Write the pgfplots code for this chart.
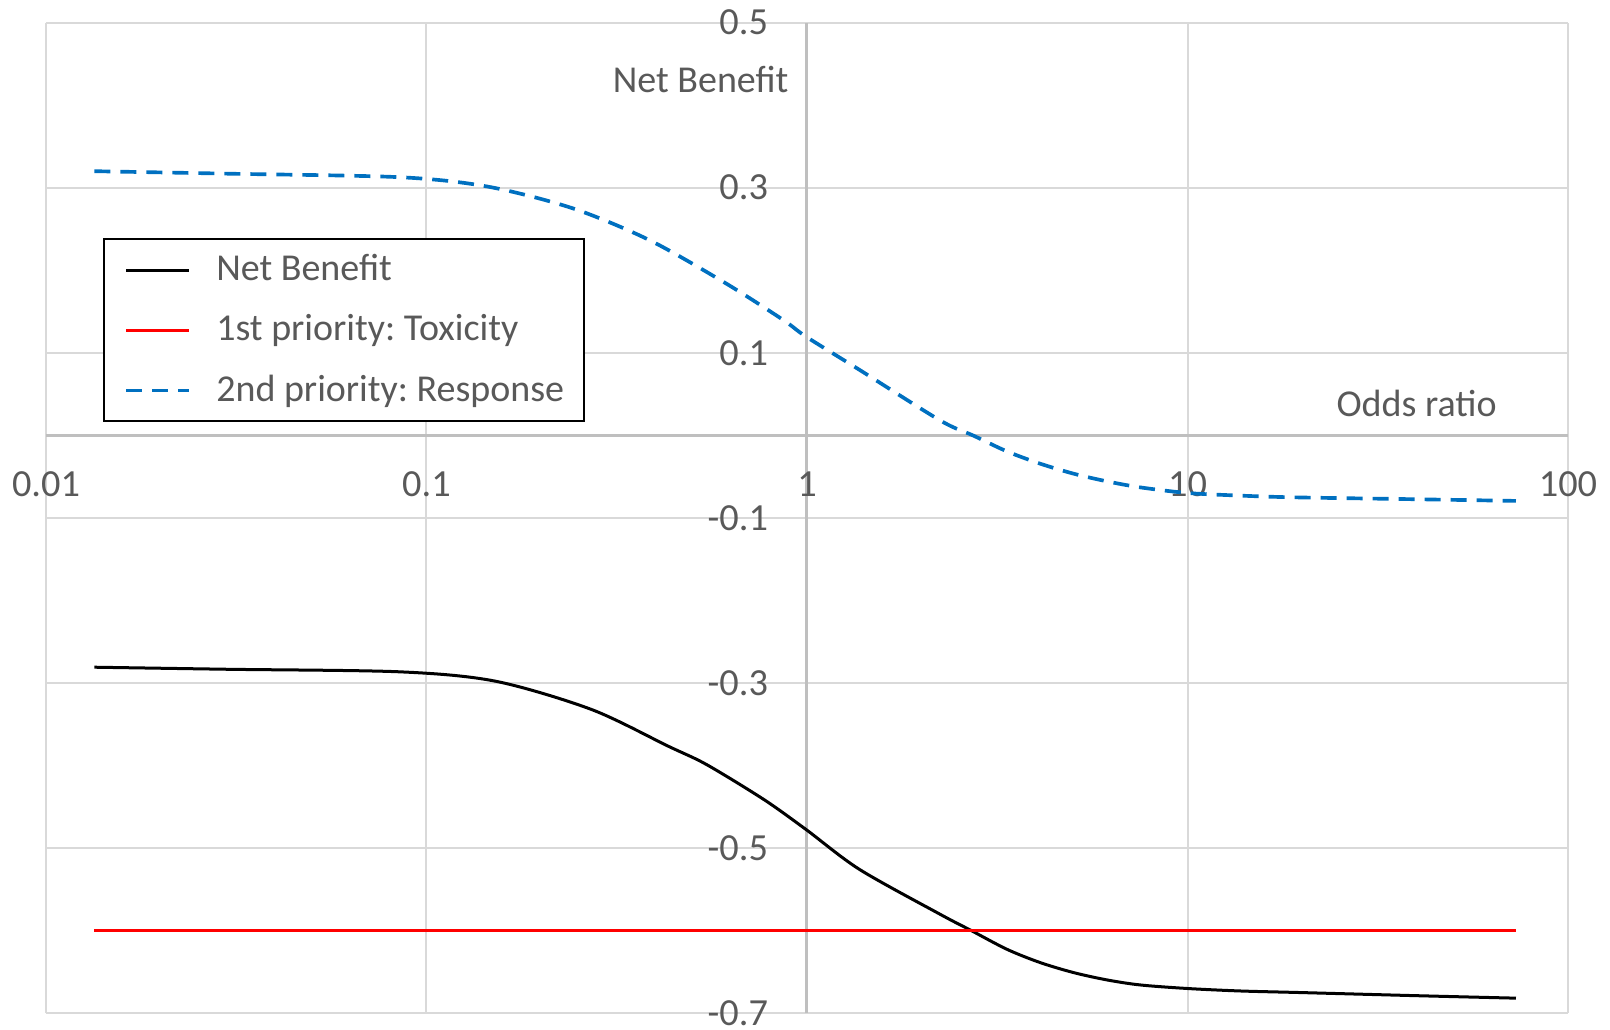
\documentclass[border=0pt]{standalone}
\usepackage{pgfplots}
\pgfplotsset{compat=1.18}
\usepackage{fontspec}
\setmainfont{Carlito}
\frenchspacing
\definecolor{txt}{HTML}{595959}
\definecolor{grd}{HTML}{D9D9D9}
\definecolor{axl}{HTML}{BFBFBF}
\definecolor{xblue}{HTML}{0070C0}
\definecolor{xred}{HTML}{FF0000}
\begin{document}
\begin{tikzpicture}
\begin{axis}[
  scale only axis, width=456.6pt, height=297.1pt,
  xmode=log, xmin=0.01, xmax=100, ymin=-0.7, ymax=0.5,
  enlargelimits=false,
  axis x line=middle, axis y line=middle,
  axis line style={-, draw=axl, line width=0.9pt},
  hide obscured x ticks=false, hide obscured y ticks=false,
  xtick={0.01,0.1,1,10,100}, xticklabels={0.01,0.1,1,10,100},
  ytick={-0.7,-0.5,-0.3,-0.1,0.1,0.3,0.5},
  yticklabels={-0.7,-0.5,-0.3,-0.1,0.1,0.3,0.5},
  minor xtick={}, minor ytick={},
  major tick length=0pt, minor tick length=0pt,
  grid=major, major grid style={draw=grd, line width=0.6pt},
  tick label style={font=\fontsize{11.5}{13}\selectfont, text=txt},
  xticklabel style={anchor=north, yshift=-7.5pt},
  yticklabel style={anchor=east, inner ysep=0pt, inner xsep=3.5pt, xshift=-8pt},
  legend style={at={(0.03765,0.7822)}, anchor=north west, draw=black, line width=0.6pt, fill=white,
    font=\fontsize{11.4}{13}\selectfont, text=txt,
    inner xsep=6pt, inner ysep=0.3pt, row sep=0pt,
    nodes={inner xsep=0pt, inner ysep=0pt, minimum height=18pt},
    /tikz/every odd column/.append style={column sep=7.5pt}},
  legend cell align=left,
  legend image code/.code={\draw[#1] (0pt,0pt) -- (19pt,0pt);},
  clip=false,
]
\addplot[black, line width=0.9pt, smooth, tension=0.5] coordinates {
(0.0134,-0.281) (0.03,-0.2835) (0.0852,-0.2866) (0.152,-0.298) (0.2714,-0.3322)
(0.4314,-0.3766) (0.5439,-0.3988) (0.7697,-0.4412) (0.9933,-0.4775) (1.373,-0.5259)
(2.239,-0.5804) (2.685,-0.5994) (3.354,-0.6228) (4.102,-0.6389) (5.019,-0.651)
(6.143,-0.6599) (7.515,-0.666) (10,-0.6703) (13.77,-0.6733) (19.8,-0.6752)
(40,-0.679) (73,-0.682)};
\addlegendentry{Net Benefit}
\addplot[xred, line width=0.9pt] coordinates {(0.0134,-0.6) (73,-0.6)};
\addlegendentry{1st priority: Toxicity}
\addplot[xblue, line width=1.1pt, dash pattern=on 4.8pt off 3pt, smooth, tension=0.5] coordinates {
(0.0134,0.320) (0.03,0.317) (0.0852,0.3127) (0.145,0.3013) (0.2416,0.2752)
(0.3843,0.2368) (0.6106,0.1844) (0.8644,0.140) (0.9933,0.1197) (1.373,0.0794)
(2.239,0.018) (2.741,-0.0005) (3.354,-0.0195) (4.102,-0.0344) (5.019,-0.0465)
(6.143,-0.0558) (7.515,-0.0631) (10,-0.0699) (13.77,-0.0731) (19.2,-0.0752)
(40,-0.0775) (73,-0.0795)};
\addlegendentry{2nd priority: Response}
\node[anchor=base east, font=\fontsize{11.4}{13}\selectfont, text=txt, inner sep=0pt] at (axis cs:0.897,0.415) {Net Benefit};
\node[anchor=base east, font=\fontsize{11.4}{13}\selectfont, text=txt, inner sep=0pt] at (axis cs:65.2,0.0226) {Odds ratio};
\end{axis}
\pgfresetboundingbox
\path ([shift={(-13.8pt,-4.8pt)}]current axis.south west) rectangle ([shift={(12.6pt,6.8pt)}]current axis.north east);
\end{tikzpicture}
\end{document}
